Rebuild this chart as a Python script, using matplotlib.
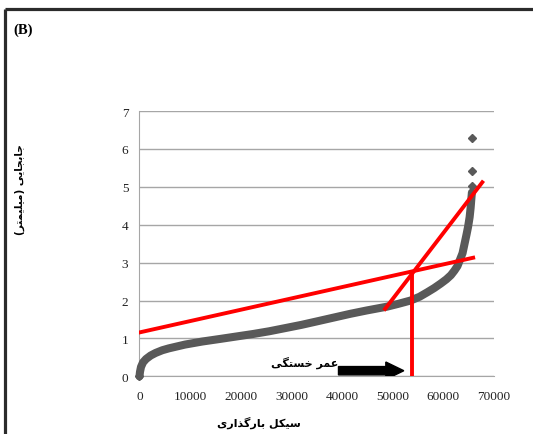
import matplotlib
matplotlib.use("Agg")
import matplotlib.pyplot as plt
from matplotlib.lines import Line2D

# sorted displacement against loading cycles
cycles = [0, 100, 300, 700, 1300, 2200, 3200, 4500, 5800, 9000, 12400,
          16000, 19000, 22500, 25600, 29000, 32000, 35000, 38300, 41600,
          44900, 48900, 51000, 53500, 55300, 56850, 58200, 59500, 60600,
          61500, 62200, 62800, 63300, 63800, 64200, 64600, 64900, 65200,
          65400, 65550, 65650]
disp = [0.0, 0.12, 0.25, 0.37, 0.46, 0.55, 0.62, 0.69, 0.74, 0.84, 0.92,
        0.99, 1.05, 1.12, 1.19, 1.28, 1.36, 1.45, 1.55, 1.65,
        1.74, 1.84, 1.91, 2.0, 2.1, 2.22, 2.33, 2.45, 2.56,
        2.67, 2.79, 2.91, 3.08, 3.25, 3.5, 3.75, 3.95, 4.2,
        4.45, 4.7, 4.85]
outlier_x = [65700, 65700, 65700]
outlier_y = [5.03, 5.43, 6.28]

# fitted lines and fatigue-life marker
fit1_x = [0, 65900]
fit1_y = [1.16, 3.13]
fit2_x = [48500, 67700]
fit2_y = [1.78, 5.12]
life_x = 53800
life_y = 2.75

xticks = [0, 10000, 20000, 30000, 40000, 50000, 60000, 70000]
yticks = [0, 1, 2, 3, 4, 5, 6, 7]

FORMS = {
    'ا': ('\uFE8D', '\uFE8E', None, None),
    'ب': ('\uFE8F', '\uFE90', '\uFE91', '\uFE92'),
    'ت': ('\uFE95', '\uFE96', '\uFE97', '\uFE98'),
    'ج': ('\uFE9D', '\uFE9E', '\uFE9F', '\uFEA0'),
    'خ': ('\uFEA5', '\uFEA6', '\uFEA7', '\uFEA8'),
    'ذ': ('\uFEAB', '\uFEAC', None, None),
    'ر': ('\uFEAD', '\uFEAE', None, None),
    'س': ('\uFEB1', '\uFEB2', '\uFEB3', '\uFEB4'),
    'ع': ('\uFEC9', '\uFECA', '\uFECB', '\uFECC'),
    'ل': ('\uFEDD', '\uFEDE', '\uFEDF', '\uFEE0'),
    'م': ('\uFEE1', '\uFEE2', '\uFEE3', '\uFEE4'),
    'ی': ('\uFBFC', '\uFBFD', '\uFBFE', '\uFBFF'),
    'ک': ('\uFB8E', '\uFB8F', '\uFB90', '\uFB91'),
    'گ': ('\uFB92', '\uFB93', '\uFB94', '\uFB95'),
}
MIRROR = {'(': ')', ')': '('}


def farsi(s):
    # pick joined letter forms by hand, then lay the text out right to left
    out = []
    for i, ch in enumerate(s):
        if ch not in FORMS:
            out.append(MIRROR.get(ch, ch))
            continue
        prev = s[i - 1] if i > 0 else ''
        nxt = s[i + 1] if i + 1 < len(s) else ''
        join_prev = prev in FORMS and FORMS[prev][2] is not None
        join_next = nxt in FORMS and FORMS[ch][2] is not None
        iso, fin, ini, med = FORMS[ch]
        if join_prev and join_next:
            out.append(med)
        elif join_prev:
            out.append(fin)
        elif join_next:
            out.append(ini)
        else:
            out.append(iso)
    return ''.join(reversed(out))


serif = 'Liberation Serif'
fa_font = ['DejaVu Sans']

fig = plt.figure(figsize=(5.33, 4.35), dpi=100)
ax = fig.add_axes([0.2617, 0.1324, 0.6650, 0.6101])

ax.set_xlim(0, 70000)
ax.set_ylim(0, 7)
ax.set_xticks(xticks)
ax.set_yticks(yticks)
ax.set_xticklabels([str(t) for t in xticks], fontfamily=serif, fontsize=9.5)
ax.set_yticklabels([str(t) for t in yticks], fontfamily=serif, fontsize=9.5)
ax.tick_params(length=0, pad=8, colors='#222222')
ax.tick_params(axis='x', pad=10)
ax.grid(axis='y', color='#A6A6A6', linewidth=1.0)
ax.set_axisbelow(True)
for side in ('top', 'right'):
    ax.spines[side].set_visible(False)
ax.spines['left'].set_color('#A6A6A6')
ax.spines['bottom'].set_color('#A6A6A6')

gray = '#595959'
ax.plot(cycles, disp, color=gray, linewidth=5.8, solid_capstyle='round',
        solid_joinstyle='round', clip_on=False, zorder=3)
ax.plot(cycles[:1], disp[:1], linestyle='none', color=gray,
        marker='D', markersize=4.5, clip_on=False, zorder=3)
ax.plot(outlier_x, outlier_y, linestyle='none', color=gray,
        marker='D', markersize=4.5, zorder=3)

red = '#FF0000'
ax.plot(fit1_x, fit1_y, color=red, linewidth=2.8, zorder=4)
ax.plot(fit2_x, fit2_y, color=red, linewidth=2.8, zorder=4)
ax.plot([life_x, life_x], [0, life_y], color=red, linewidth=2.8, zorder=4)

ax.arrow(39300, 0.15, 12900, 0, width=0.22, head_width=0.46,
         head_length=3550, length_includes_head=True,
         color='black', zorder=5)
ax.text(39200, 0.38, farsi('عمر خستگی'), ha='right', va='center',
        fontsize=8, fontweight='bold', family=fa_font)

fig.text(259 / 533, 1 - 423 / 435, farsi('سیکل بارگذاری'), ha='center',
         va='center', fontsize=8, fontweight='bold', family=fa_font)
fig.text(20 / 533, 1 - 190 / 435, farsi('جابجایی (میلیمتر)'), ha='center',
         va='center', rotation=90, fontsize=7.5, fontweight='bold',
         family=fa_font)

fig.text(13 / 533, 1 - 30 / 435, '(B)', ha='left', va='center',
         fontsize=10.5, fontweight='bold', family=serif)

# frame along the top and left edge of the panel
frame = '#2B2B2B'
fig.add_artist(Line2D([5 / 533, 1], [1 - 10 / 435] * 2, color=frame,
                      linewidth=2.3, solid_capstyle='butt'))
fig.add_artist(Line2D([5 / 533] * 2, [0, 1 - 10 / 435], color=frame,
                      linewidth=2.3, solid_capstyle='butt'))

fig.savefig('out.png', dpi=100)
